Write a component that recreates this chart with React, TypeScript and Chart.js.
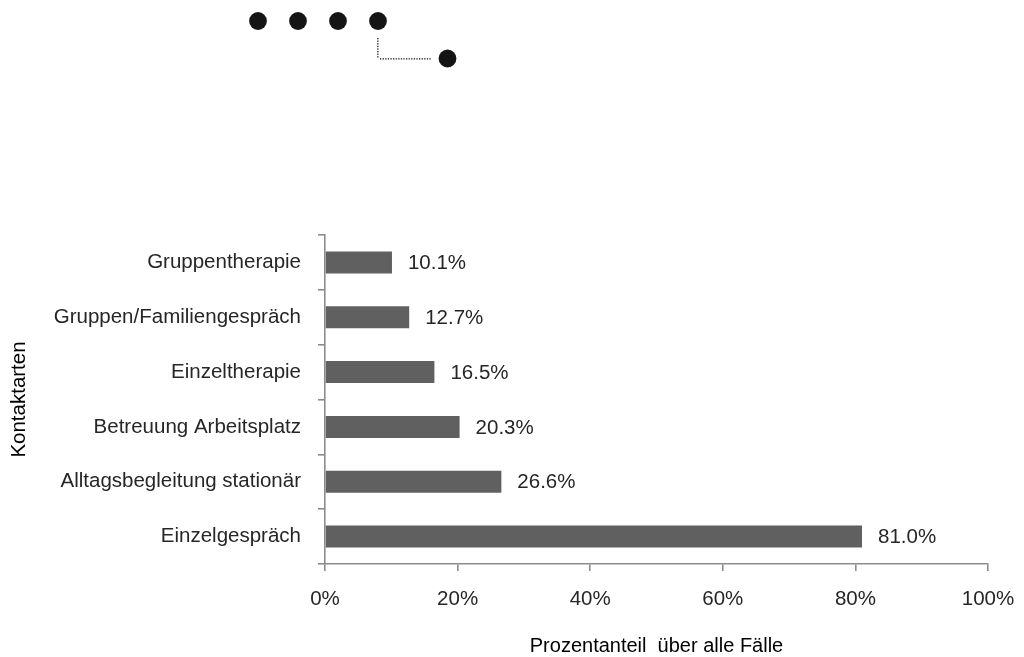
import React, { useEffect, useRef } from "react";
import { Chart, registerables } from "chart.js";

Chart.register(...registerables);

const categories = [
  "Gruppentherapie",
  "Gruppen/Familiengespräch",
  "Einzeltherapie",
  "Betreuung Arbeitsplatz",
  "Alltagsbegleitung stationär",
  "Einzelgespräch",
];
const values = [10.1, 12.7, 16.5, 20.3, 26.6, 81.0];
const xTicks = [0, 20, 40, 60, 80, 100];
const xTitle = "Prozentanteil  über alle Fälle";
const yTitle = "Kontaktarten";

const FONT = "'Liberation Sans', Arial, Helvetica, sans-serif";
const TXT = 20.5;

const valueLabels = {
  id: "valueLabels",
  afterDatasetsDraw(chart: any) {
    const ctx = chart.ctx;
    const meta = chart.getDatasetMeta(0);
    ctx.save();
    ctx.font = `${TXT}px ${FONT}`;
    ctx.fillStyle = "#262626";
    ctx.textAlign = "left";
    ctx.textBaseline = "middle";
    meta.data.forEach((bar: any, i: number) => {
      ctx.fillText(values[i].toFixed(1) + "%", bar.x + 16, bar.y + 1);
    });
    ctx.restore();
  },
};

const extras = {
  id: "extras",
  afterDraw(chart: any) {
    const ctx = chart.ctx;
    const area = chart.chartArea;
    ctx.save();
    // x axis title
    ctx.font = `20px ${FONT}`;
    ctx.fillStyle = "#000";
    ctx.textAlign = "center";
    ctx.textBaseline = "middle";
    ctx.fillText(xTitle, (area.left + area.right) / 2, 646);
    // decorative logo dots
    ctx.fillStyle = "#141414";
    [258, 298, 338, 378].forEach((cx) => {
      ctx.beginPath();
      ctx.arc(cx, 21, 8.9, 0, Math.PI * 2);
      ctx.fill();
    });
    ctx.beginPath();
    ctx.arc(447.5, 58.5, 8.9, 0, Math.PI * 2);
    ctx.fill();
    ctx.fillStyle = "#1a1a1a";
    for (let y = 38; y <= 58; y += 2.6) ctx.fillRect(377.2, y, 1.3, 1.3);
    for (let x = 380; x <= 431; x += 2.6) ctx.fillRect(x, 58.2, 1.3, 1.3);
    ctx.restore();
  },
};

export default function App() {
  const ref = useRef<HTMLCanvasElement>(null);
  useEffect(() => {
    if (!ref.current) return;
    const chart = new Chart(ref.current, {
      type: "bar",
      data: {
        labels: categories,
        datasets: [
          {
            data: values,
            backgroundColor: "#606060",
            borderWidth: 0,
            categoryPercentage: 1,
            barPercentage: 0.4,
          },
        ],
      },
      options: {
        indexAxis: "y",
        animation: false,
        responsive: false,
        maintainAspectRatio: false,
        layout: { padding: { top: 235, right: 36, left: 0, bottom: 0 } },
        plugins: {
          legend: { display: false },
          tooltip: { enabled: false },
        },
        scales: {
          x: {
            min: 0,
            max: 100,
            afterBuildTicks(scale: any) {
              scale.ticks = xTicks.map((v) => ({ value: v }));
            },
            afterFit(scale: any) {
              scale.height = 93;
              scale.paddingLeft = 0;
              scale.paddingRight = 0;
            },
            border: { color: "#8c8c8c", width: 1.6 },
            grid: {
              drawOnChartArea: false,
              drawTicks: true,
              tickLength: 7,
              tickColor: "#8c8c8c",
              lineWidth: 1.6,
            },
            ticks: {
              padding: 16,
              color: "#262626",
              font: { size: TXT, family: FONT },
              callback: (v: any) => v + "%",
              maxRotation: 0,
            },
          },
          y: {
            afterFit(scale: any) {
              scale.width = 325;
              scale.paddingTop = 0;
              scale.paddingBottom = 0;
            },
            border: { color: "#8c8c8c", width: 1.6 },
            grid: {
              drawOnChartArea: false,
              drawTicks: true,
              tickLength: 7,
              tickColor: "#8c8c8c",
              lineWidth: 1.6,
              offset: true,
            },
            ticks: {
              padding: 17,
              color: "#262626",
              font: { size: TXT, family: FONT },
            },
            title: {
              display: true,
              text: yTitle,
              color: "#000",
              font: { size: 20.5, family: FONT },
              padding: { top: 7, bottom: 0 },
            },
          },
        },
      },
      plugins: [valueLabels, extras],
    });
    return () => chart.destroy();
  }, []);
  return (
    <div style={{ position: "fixed", left: 0, top: 0, width: 1024, height: 657, background: "#fff" }}>
      <canvas ref={ref} width={1024} height={657} style={{ width: 1024, height: 657, display: "block" }} />
    </div>
  );
}
